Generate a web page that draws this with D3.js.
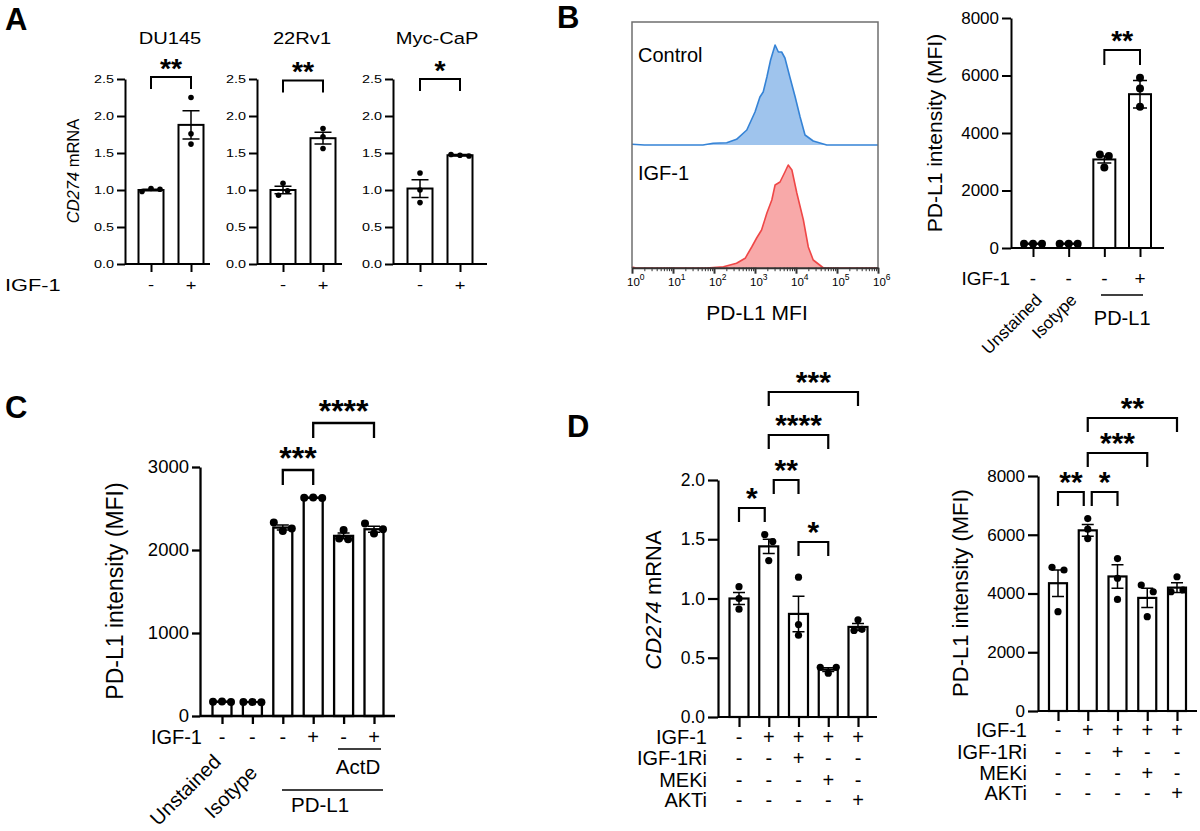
<!DOCTYPE html>
<html>
<head>
<meta charset="utf-8">
<script src="https://cdn.jsdelivr.net/npm/d3@7/dist/d3.min.js"></script>
<style>
  body { margin: 0; background: #fff; }
  svg { display: block; }
  text { font-family: "Liberation Sans", Arial, Helvetica, sans-serif; fill: #000; }
</style>
</head>
<body>
<svg id="fig" width="1200" height="831"></svg>
<script>
// ---------------- data ----------------
// A: CD274 mRNA in three cell lines, IGF-1 - / +
const aLines = ['DU145', '22Rv1', 'Myc-CaP'];
const aMean = [[1.00, 1.88], [1.00, 1.70], [1.02, 1.47]];
const aSem = [[0.01, 0.19], [0.05, 0.08], [0.12, 0.01]];
const aPts = [
  [[0.98, 1.02, 1.01], [2.25, 1.76, 1.62]],
  [[0.93, 1.09, 0.99], [1.83, 1.72, 1.56]],
  [[1.23, 1.00, 0.83], [1.48, 1.47, 1.46]]
];
const aStars = ['**', '**', '*'];
const aIgf = ['-', '+'];
const aTicks = [0, 0.5, 1.0, 1.5, 2.0, 2.5];

// B: flow histograms (log10 MFI, count) and MFI bars
const bHistCtrl = [[0, 0.8], [0.3, 0], [1.73, 0], [1.98, 1.7], [2.31, 2.3], [2.55, 5.7], [2.80, 15], [3.00, 33],
  [3.12, 48], [3.20, 53], [3.29, 68], [3.38, 85], [3.49, 100], [3.57, 93], [3.65, 93], [3.73, 87], [3.85, 68],
  [3.98, 48], [4.10, 28], [4.22, 10], [4.42, 4], [4.75, 0], [6, 0]];
const bHistIgf = [[0, 1], [0.1, 0], [1.82, 0], [2.23, 1.3], [2.55, 4.7], [2.76, 9.7], [2.92, 21], [3.04, 30],
  [3.16, 38], [3.29, 55], [3.41, 68], [3.49, 83], [3.61, 86], [3.73, 96], [3.81, 103], [3.90, 98], [4.02, 75],
  [4.18, 48], [4.30, 21], [4.42, 8], [4.67, 0], [6, 0]];
const bDecades = [0, 1, 2, 3, 4, 5, 6];
const bControls = ['Unstained', 'Isotype'];
const bMean = [150, 150, 3080, 5350];
const bSem = [8, 8, 120, 480];
const bPts = [[150, 150, 150], [150, 150, 150], [3250, 2800, 3200], [5920, 5550, 4910]];
const bIgf = ['-', '-', '-', '+'];
const bTicks = [0, 2000, 4000, 6000, 8000];

// C: PD-L1 MFI with actinomycin D
const cControls = ['Unstained', 'Isotype'];
const cMean = [172, 168, 2270, 2630, 2170, 2250];
const cSem = [3, 3, 30, 3, 35, 35];
const cPts = [[172, 175, 169], [168, 170, 166], [2330, 2230, 2260], [2630, 2632, 2628], [2240, 2140, 2130], [2320, 2200, 2250]];
const cIgf = ['-', '-', '-', '+', '-', '+'];
const cTicks = [0, 1000, 2000, 3000];
const cSig = [[2, 3, '***'], [3, 5, '****']];

// D: inhibitors
const dRows = ['IGF-1', 'IGF-1Ri', 'MEKi', 'AKTi'];
const dSigns = [
  ['-', '+', '+', '+', '+'],
  ['-', '-', '+', '-', '-'],
  ['-', '-', '-', '+', '-'],
  ['-', '-', '-', '-', '+']
];
const dMrnaMean = [1.00, 1.44, 0.87, 0.40, 0.76];
const dMrnaSem = [0.05, 0.06, 0.15, 0.015, 0.03];
const dMrnaPts = [[1.10, 1.00, 0.91], [1.54, 1.48, 1.32], [1.18, 0.78, 0.69], [0.42, 0.37, 0.42], [0.73, 0.82, 0.74]];
const dMrnaTicks = [0, 0.5, 1.0, 1.5, 2.0];
const dMrnaSig = [[0, 1, '*'], [1, 2, '**'], [2, 3, '*'], [1, 3, '****'], [1, 4, '***']];
const dMfiMean = [4350, 6150, 4580, 3850, 4200];
const dMfiSem = [450, 200, 400, 330, 170];
const dMfiPts = [[4890, 4800, 3380], [6550, 6190, 5870], [5190, 4520, 3800], [4290, 4060, 3210], [4570, 4060, 4120]];
const dMfiTicks = [0, 2000, 4000, 6000, 8000];
const dMfiSig = [[0, 1, '**'], [1, 2, '*'], [1, 3, '***'], [1, 4, '**']];

// ---------------- helpers ----------------
const svg = d3.select('#fig');
const FONT = '"Liberation Sans", Arial, Helvetica, sans-serif';

function label (g, x, y, str, o = {}) {
  let tr = `translate(${x},${y})`;
  if (o.rot) tr += ` rotate(${o.rot})`;
  if (o.sx) tr += ` scale(${o.sx},1)`;
  return g.append('text')
    .attr('transform', tr)
    .attr('font-size', o.fs || 16)
    .attr('text-anchor', o.anchor || 'middle')
    .attr('font-weight', o.bold ? 'bold' : null)
    .attr('font-style', o.italic ? 'italic' : null)
    .attr('dy', o.dy || null)
    .text(str);
}

// spread points that would overlap, like a column scatter
function jitter (vals, y, r, gap) {
  const idx = vals.map((v, i) => i).sort((a, b) => y(vals[b]) - y(vals[a]));
  const off = vals.map(() => 0);
  const clusters = [];
  idx.forEach(i => {
    const last = clusters[clusters.length - 1];
    if (last && Math.abs(y(vals[i]) - y(vals[last[last.length - 1]])) < 2 * r) last.push(i);
    else clusters.push([i]);
  });
  clusters.forEach(c => {
    c.sort((a, b) => a - b);
    c.forEach((i, k) => { off[i] = (k - (c.length - 1) / 2) * gap; });
  });
  return off;
}

function drawBars (p) {
  const g = svg.append('g');
  const sw = p.sw || 2;
  const y = d3.scaleLinear().domain(p.domain).range([p.y0, p.y1]);
  const x = d3.scalePoint().domain(d3.range(p.mean.length)).range([p.cx0, p.cx1]);

  // bars
  g.selectAll('rect.bar').data(p.mean).join('rect')
    .attr('class', 'bar')
    .attr('x', (d, i) => x(i) - p.bw / 2)
    .attr('y', d => y(d))
    .attr('width', p.bw)
    .attr('height', d => y(0) - y(d))
    .attr('fill', '#fff')
    .attr('stroke', '#000')
    .attr('stroke-width', sw);

  // y axis
  const ay = g.append('g').attr('transform', `translate(${p.ax},0)`)
    .call(d3.axisLeft(y).tickValues(p.ticks).tickFormat(d3.format(p.fmt))
      .tickSize(p.tick).tickSizeOuter(0).tickPadding(3));
  ay.selectAll('path, line').attr('stroke', '#000').attr('stroke-width', sw);
  ay.selectAll('text').attr('font-size', p.tfs).attr('font-family', FONT).attr('fill', '#000');
  if (p.sx) ay.selectAll('text').attr('transform', `scale(${p.sx},1)`).attr('x', -(p.tick + 3) / p.sx);

  // x axis
  g.append('line')
    .attr('x1', p.ax).attr('x2', p.end).attr('y1', y(0)).attr('y2', y(0))
    .attr('stroke', '#000').attr('stroke-width', sw);
  const axb = g.append('g').attr('transform', `translate(0,${y(0)})`)
    .call(d3.axisBottom(x).tickSize(p.tick).tickFormat(''));
  axb.select('.domain').remove();
  axb.selectAll('line').attr('stroke', '#000').attr('stroke-width', sw);

  // points
  p.pts.forEach((vals, i) => {
    const off = jitter(vals, y, p.r, p.gap || 2 * p.r + 3);
    g.selectAll(null).data(vals).join('circle')
      .attr('cx', (d, k) => x(i) + off[k])
      .attr('cy', d => y(d))
      .attr('r', p.r)
      .attr('fill', '#000');
  });

  // error bars (mean ± SEM)
  p.mean.forEach((m, i) => {
    const s = p.sem[i], cx = x(i), cw = p.cap / 2;
    g.append('path')
      .attr('d', `M${cx},${y(m - s)}V${y(m + s)}M${cx - cw},${y(m + s)}H${cx + cw}M${cx - cw},${y(m - s)}H${cx + cw}`)
      .attr('fill', 'none').attr('stroke', '#000').attr('stroke-width', 1.5);
  });

  // significance brackets
  (p.sig || []).forEach(([a, b, lab], k) => {
    const L = p.sigLayout[k];
    const xa = x(a) + (L.l || 0), xb = x(b) - (L.r || 0);
    g.append('path')
      .attr('d', `M${xa},${L.y + p.leg}V${L.y}H${xb}V${L.y + p.leg}`)
      .attr('fill', 'none').attr('stroke', '#000').attr('stroke-width', sw);
    label(g, (xa + xb) / 2, L.y - p.sgap + 0.28 * p.sfs, lab, {fs: p.sfs, bold: true, sx: p.starSx});
  });

  // treatment rows
  (p.rows || []).forEach((row, r) => {
    if (row.name) label(g, p.rowLabelX, p.rowY[r], row.name, {fs: p.rfs, anchor: 'end', dy: '0.35em', sx: p.sx});
    row.signs.forEach((s, i) => label(g, x(i), p.rowY[r], s, {fs: p.rfs, dy: '0.35em', sx: p.sx}));
  });

  return {g, x, y};
}

// ---------------- panel A ----------------
const aLayout = [
  {ax: 125, cx0: 151, cx1: 191, end: 210, title: 170, top: 77},
  {ax: 257, cx0: 283, cx1: 323, end: 342, title: 302, top: 80.5},
  {ax: 393, cx0: 420, cx1: 460, end: 487, title: 437, top: 79}
];
aLines.forEach((name, k) => {
  const L = aLayout[k];
  const P = drawBars({
    domain: [0, 2.5], y0: 264, y1: 79, ax: L.ax, cx0: L.cx0, cx1: L.cx1, end: L.end,
    ticks: aTicks, fmt: '.1f', tick: 8, tfs: 11.8, sx: 1.22, sw: 2,
    mean: aMean[k], sem: aSem[k], pts: aPts[k], bw: 25, r: 2.8, gap: 9, cap: 17,
    sig: [[0, 1, aStars[k]]], sigLayout: [{y: L.top}], leg: 12, sfs: 27, starSx: 1.05, sgap: 7,
    rows: [{name: null, signs: aIgf}], rowY: [285], rfs: 15
  });
  label(P.g, L.title, 44, name, {fs: 16.5, sx: 1.22});
});
label(svg, 5, 285, 'IGF-1', {fs: 17, anchor: 'start', dy: '0.35em', sx: 1.28});
const aY = svg.append('text')
  .attr('transform', 'translate(73,171) rotate(-90)')
  .attr('text-anchor', 'middle').attr('dy', '0.35em').attr('font-size', 16.5);
aY.append('tspan').attr('font-style', 'italic').text('CD274');
aY.append('tspan').text(' mRNA');

// ---------------- panel B: histograms ----------------
(function drawHist () {
  const g = svg.append('g');
  const x = d3.scaleLog().domain([1, 1e6]).range([632, 878]);
  const lanes = [
    {data: bHistCtrl, base: 145, stroke: '#3583d6', fill: '#9fc4ed', name: 'Control', ty: 62},
    {data: bHistIgf, base: 268, stroke: '#ef4747', fill: '#f8a9a9', name: 'IGF-1', ty: 180}
  ];
  lanes.forEach(L => {
    const y = d3.scaleLinear().domain([0, 100]).range([L.base, L.base - 100]);
    const area = d3.area().x(d => x(10 ** d[0])).y0(L.base).y1(d => y(d[1]));
    const line = d3.line().x(d => x(10 ** d[0])).y(d => y(d[1]));
    g.append('path').attr('d', area(L.data)).attr('fill', L.fill);
    g.append('path').attr('d', line(L.data)).attr('fill', 'none')
      .attr('stroke', L.stroke).attr('stroke-width', 1.6).attr('stroke-linejoin', 'round');
    label(g, 638, L.ty, L.name, {fs: 20, anchor: 'start'});
  });
  // frame
  g.append('path').attr('d', 'M632,268V22H878V268')
    .attr('fill', 'none').attr('stroke', '#6f6f6f').attr('stroke-width', 1.5);
  // log axis: majors and minors (drawn over the lane baseline)
  const majors = bDecades.map(k => 10 ** k);
  const minors = [];
  bDecades.slice(0, -1).forEach(k => d3.range(2, 10).forEach(m => minors.push(m * 10 ** k)));
  const axM = g.append('g').attr('transform', 'translate(0,267.7)')
    .call(d3.axisBottom(x).tickValues(majors).tickSize(6).tickSizeOuter(0).tickFormat(''));
  axM.selectAll('path, line').attr('stroke', '#333').attr('stroke-width', 2);
  const axm = g.append('g').attr('transform', 'translate(0,267.7)')
    .call(d3.axisBottom(x).tickValues(minors).tickSize(3.5).tickFormat(''));
  axm.select('.domain').remove();
  axm.selectAll('line').attr('stroke', '#333').attr('stroke-width', 1);
  bDecades.forEach(k => {
    const t = g.append('text')
      .attr('x', x(10 ** k) - 5).attr('y', 286)
      .attr('font-family', '"DejaVu Sans", Verdana, sans-serif')
      .attr('font-size', 11.5).attr('fill', '#111');
    t.append('tspan').text('10');
    t.append('tspan').attr('dy', -6).attr('font-size', 8.5).text(k);
  });
  label(g, 757, 320, 'PD-L1 MFI', {fs: 21});
})();

// ---------------- panel B: bars ----------------
const bRotAnchor = [[10, 301], [9, 301]];
const B = drawBars({
  domain: [0, 8000], y0: 248, y1: 18, ax: 1011, cx0: 1033, cx1: 1140, end: 1164,
  ticks: bTicks, fmt: 'd', tick: 9, tfs: 17, sw: 2,
  mean: bMean, sem: bSem, pts: bPts, bw: 22, r: 4, gap: 9, cap: 14,
  sig: [[2, 3, '**']], sigLayout: [{y: 50}], leg: 15, sfs: 28, sgap: 8,
  rows: [{name: 'IGF-1', signs: bIgf}], rowLabelX: 1010, rowY: [278], rfs: 19
});
B.g.append('line').attr('x1', 1101).attr('x2', 1143).attr('y1', 295).attr('y2', 295)
  .attr('stroke', '#000').attr('stroke-width', 1.5);
label(B.g, (B.x(2) + B.x(3)) / 2, 325, 'PD-L1', {fs: 20});
bControls.forEach((name, i) =>
  label(B.g, B.x(i) + bRotAnchor[i][0], bRotAnchor[i][1], name, {fs: 17, anchor: 'end', rot: -45}));
label(svg, 935, 133, 'PD-L1 intensity (MFI)', {fs: 21, rot: -90, dy: '0.35em'});

// ---------------- panel C ----------------
const cRotAnchor = [[0, 763], [6, 774]];
const C = drawBars({
  domain: [0, 3000], y0: 716, y1: 467, ax: 200, cx0: 222, cx1: 374, end: 395,
  ticks: cTicks, fmt: 'd', tick: 8, tfs: 18.5, sw: 2.3,
  mean: cMean, sem: cSem, pts: cPts, bw: 19, r: 4, gap: 9, cap: 12,
  sig: cSig, sigLayout: [{y: 470}, {y: 423}], leg: 15, sfs: 32, sgap: 10,
  rows: [{name: 'IGF-1', signs: cIgf}], rowLabelX: 202, rowY: [737], rfs: 20
});
C.g.append('line').attr('x1', 338).attr('x2', 381).attr('y1', 749).attr('y2', 749)
  .attr('stroke', '#000').attr('stroke-width', 1.5);
label(C.g, 358, 774, 'ActD', {fs: 20.5});
C.g.append('line').attr('x1', 282).attr('x2', 383).attr('y1', 790).attr('y2', 790)
  .attr('stroke', '#000').attr('stroke-width', 1.5);
label(C.g, 320, 812, 'PD-L1', {fs: 20.5});
cControls.forEach((name, i) =>
  label(C.g, C.x(i) + cRotAnchor[i][0], cRotAnchor[i][1], name, {fs: 20, anchor: 'end', rot: -45}));
label(svg, 115, 591, 'PD-L1 intensity (MFI)', {fs: 23, rot: -90, dy: '0.35em'});

// ---------------- panel D ----------------
const dRowsL = dRows.map((name, r) => ({name, signs: dSigns[r]}));
drawBars({
  domain: [0, 2], y0: 717, y1: 480, ax: 718, cx0: 739, cx1: 858, end: 877,
  ticks: dMrnaTicks, fmt: '.1f', tick: 10, tfs: 17.5, sw: 2.2,
  mean: dMrnaMean, sem: dMrnaSem, pts: dMrnaPts, bw: 19, r: 3.6, gap: 8, cap: 12,
  sig: dMrnaSig,
  sigLayout: [{y: 508, r: 4}, {y: 480, l: 5}, {y: 542}, {y: 435}, {y: 392}],
  leg: 14, sfs: 30, sgap: 8,
  rows: dRowsL, rowLabelX: 707, rowY: [737, 758, 780, 800], rfs: 20
});
const dY = svg.append('text')
  .attr('transform', 'translate(653,600) rotate(-90)')
  .attr('text-anchor', 'middle').attr('dy', '0.35em').attr('font-size', 22);
dY.append('tspan').attr('font-style', 'italic').text('CD274');
dY.append('tspan').text(' mRNA');

drawBars({
  domain: [0, 8000], y0: 711, y1: 476, ax: 1038, cx0: 1058, cx1: 1177, end: 1197,
  ticks: dMfiTicks, fmt: 'd', tick: 10, tfs: 17, sw: 2.2,
  mean: dMfiMean, sem: dMfiSem, pts: dMfiPts, bw: 18, r: 3.6, gap: 12, cap: 12,
  sig: dMfiSig,
  sigLayout: [{y: 492, r: 4}, {y: 492, l: 4}, {y: 453}, {y: 418}],
  leg: 14, sfs: 30, sgap: 8,
  rows: dRowsL, rowLabelX: 1027, rowY: [730, 752, 773, 793], rfs: 20
});
label(svg, 960, 593, 'PD-L1 intensity (MFI)', {fs: 22, rot: -90, dy: '0.35em'});

// ---------------- panel letters ----------------
[['A', 5, 30], ['B', 557, 28], ['C', 5, 418], ['D', 567, 437]].forEach(([t, x, y]) =>
  label(svg, x, y, t, {fs: 31, bold: true, anchor: 'start'}));
</script>
</body>
</html>
